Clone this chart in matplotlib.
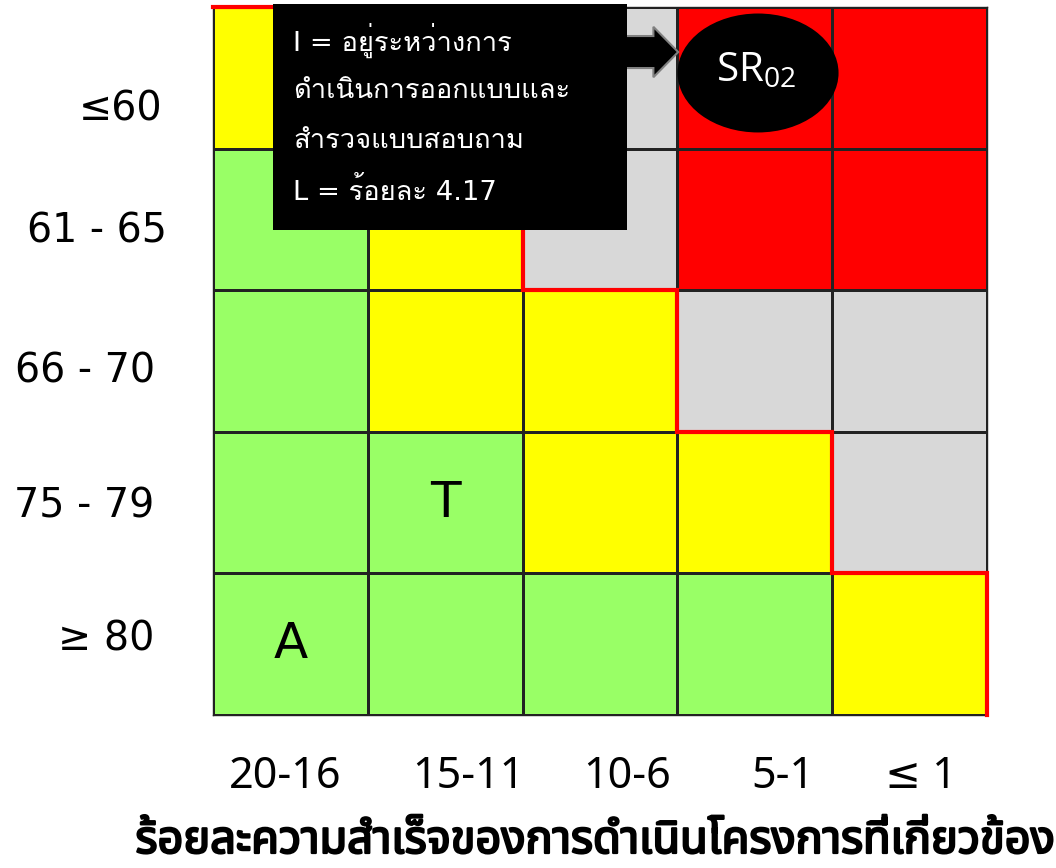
import matplotlib
matplotlib.use("Agg")
import matplotlib.pyplot as plt
import numpy as np
from matplotlib.colors import ListedColormap
from matplotlib.patches import Rectangle, Ellipse, Polygon
from matplotlib.transforms import ScaledTranslation
import matplotlib.patheffects as pe

plt.rcParams['mathtext.default'] = 'regular'

# risk matrix data
x_labels = ["20-16", "15-11", "10-6", "5-1", "≤ 1"]
y_labels = ["≤60", "61 - 65", "66 - 70", "75 - 79", "≥ 80"]
# 0 green, 1 yellow, 2 gray, 3 red (rows top -> bottom)
levels = [
    [1, 1, 2, 3, 3],
    [0, 1, 2, 3, 3],
    [0, 1, 1, 2, 2],
    [0, 0, 1, 1, 2],
    [0, 0, 0, 0, 1],
]
level_colors = ["#99FF66", "#FFFF00", "#D8D8D8", "#FF0000"]
# first column beyond the acceptable zone, per row (red boundary)
limit_col = [2, 2, 3, 4, 5]
# markers placed in cells: (label, row, col)
cell_marks = [("A", 4, 0), ("T", 3, 1)]
sr_label = "SR$_{02}$"
note_lines = ["I = อยู่ระหว่างการ", "ดำเนินการออกแบบและ", "สำรวจแบบสอบถาม", "L = ร้อยละ 4.17"]
x_title = "ร้อยละความสำเร็จของการดำเนินโครงการที่เกี่ยวข้อง"

fig = plt.figure(figsize=(10.56, 8.68), dpi=100)
ax = fig.add_axes([213/1056, 153/868, 774/1056, 708/868])

z = np.array(levels)
ax.pcolormesh(np.arange(6), np.arange(6), z, cmap=ListedColormap(level_colors),
              vmin=-0.5, vmax=3.5, edgecolors="#222222", linewidth=1.0)
ax.set_xlim(0, 5)
ax.set_ylim(5, 0)
for s in ax.spines.values():
    s.set_color("#222222")
    s.set_linewidth(1.0)

# red boundary step line
px, py = [0], [0]
for r, c in enumerate(limit_col):
    px += [c, c]
    py += [r, r + 1]
ax.plot(px, py, color="#FF0000", lw=3.0, clip_on=False, zorder=5, solid_joinstyle="miter")

for lab, r, c in cell_marks:
    ax.text(c + 0.5, r + 0.5, lab, ha="center", va="center", fontsize=36,
            family="DejaVu Sans", color="black", zorder=6)

# note box with block arrow to the SR ellipse
ax.add_patch(Rectangle((0.388, -0.02), 2.286, 1.595, facecolor="black",
                       edgecolor="none", zorder=7, clip_on=False))
ax.add_patch(Polygon([(2.66, 0.205), (2.845, 0.205), (2.845, 0.14), (3.005, 0.318),
                      (2.845, 0.496), (2.845, 0.431), (2.66, 0.431)],
                     closed=True, facecolor="black", edgecolor="#808080", lw=1.5, zorder=6))
for i, line in enumerate(note_lines):
    ax.text(0.517, 0.233 + i * 0.358, line, color="white", fontsize=19.7,
            family=["DejaVu Sans", "Loma"], ha="left", va="center", zorder=8)

ax.add_patch(Ellipse((3.521, 0.466), 1.04, 0.84, facecolor="black", edgecolor="none", zorder=7))
ax.text(3.51, 0.45, sr_label, color="white", fontsize=29, family="Open Sans",
        ha="center", va="center", zorder=8)

# ticks
ax.set_xticks(np.arange(5) + 0.5)
ax.set_xticklabels(x_labels, family=["Noto Sans Thai", "Noto Sans", "DejaVu Sans"], fontsize=31)
ax.set_yticks(np.arange(5) + 0.5)
ax.set_yticklabels(y_labels, family="DejaVu Sans", fontsize=28.5)
ax.tick_params(axis="both", length=0)
ax.tick_params(axis="x", pad=29)
ax.tick_params(axis="y", pad=42)

x_nudge = [-5, 23, 27, 28, 11]
for lbl, dx in zip(ax.get_xticklabels(), x_nudge):
    lbl.set_transform(lbl.get_transform() + ScaledTranslation(dx / 100, 0, fig.dpi_scale_trans))
y_nudge = [-27, -8, -6, 1, 9]
y_shift = [8, 12, 0, 0, 0]
for lbl, dy, dx in zip(ax.get_yticklabels(), y_nudge, y_shift):
    lbl.set_transform(lbl.get_transform() + ScaledTranslation(dx / 100, dy / 100, fig.dpi_scale_trans))

fig.text(595/1056, 15/868, x_title, ha="center", va="baseline", fontsize=32.5,
         family=["Noto Sans Thai", "DejaVu Sans"],
         path_effects=[pe.withStroke(linewidth=1.6, foreground="black")])

fig.savefig("out.png", dpi=100)
